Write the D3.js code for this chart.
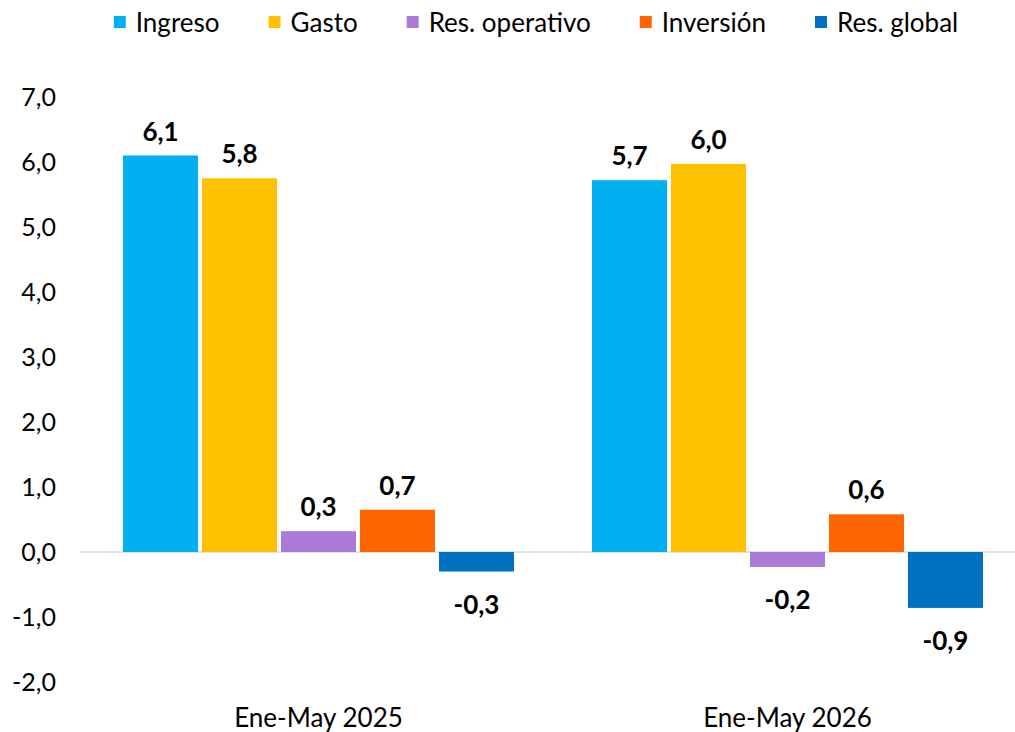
<!DOCTYPE html>
<html>
<head>
<meta charset="utf-8">
<script src="https://cdn.jsdelivr.net/npm/d3@7"></script>
<style>
  body { margin: 0; background: #fff; }
  svg { font-family: Lato, "Open Sans", sans-serif; }
</style>
</head>
<body>
<div id="chart"></div>
<script>
// data
const periods = ["Ene-May 2025", "Ene-May 2026"];
const seriesNames = ["Ingreso", "Gasto", "Res. operativo", "Inversión", "Res. global"];
const seriesColors = ["#00B0F0", "#FFC000", "#A97AD6", "#FF6600", "#0070C0"];
const values2025 = [6.1, 5.75, 0.32, 0.65, -0.3];
const values2026 = [5.72, 5.97, -0.23, 0.58, -0.86];
const yTicks = [-2, -1, 0, 1, 2, 3, 4, 5, 6, 7];

const svgWidth = 1015;
const svgHeight = 732;

const svg = d3.select("#chart")
  .append("svg")
  .attr("width", svgWidth)
  .attr("height", svgHeight);

const rows = [values2025, values2026].map((vals, i) => ({
  period: periods[i],
  values: vals.map((v, j) => ({ name: seriesNames[j], value: v }))
}));

const x0 = d3.scaleBand()
  .domain(periods)
  .range([84, 1022]);

const x1 = d3.scaleBand()
  .domain(seriesNames)
  .range([39, x0.bandwidth() - 39])
  .paddingInner(0.05);

const yScale = d3.scaleLinear()
  .domain([-2, 7])
  .range([682, 97]);

const color = d3.scaleOrdinal().domain(seriesNames).range(seriesColors);
// comma decimals with a plain hyphen for negatives
const fmt = v => d3.format(".1f")(v).replace(".", ",").replace("\u2212", "-");

// y axis labels only, no line
const yAxis = d3.axisLeft(yScale)
  .tickValues(yTicks)
  .tickSize(0)
  .tickPadding(0)
  .tickFormat(fmt);
const yAxisGroup = svg.append("g")
  .attr("transform", "translate(56,0)")
  .call(yAxis);
yAxisGroup.select(".domain").remove();
yAxisGroup.selectAll("text")
  .attr("font-size", 25)
  .attr("font-family", "Lato, sans-serif")
  .attr("fill", "#000");

// zero line
svg.append("line")
  .attr("x1", 80).attr("x2", svgWidth)
  .attr("y1", yScale(0)).attr("y2", yScale(0))
  .attr("stroke", "#d9d9d9")
  .attr("stroke-width", 1.5);

const groups = svg.selectAll(".group")
  .data(rows)
  .enter()
  .append("g")
  .attr("class", "group")
  .attr("transform", d => `translate(${x0(d.period)},0)`);

groups.selectAll("rect")
  .data(d => d.values)
  .enter()
  .append("rect")
  .attr("x", d => x1(d.name))
  .attr("width", x1.bandwidth())
  .attr("y", d => yScale(Math.max(0, d.value)))
  .attr("height", d => Math.abs(yScale(d.value) - yScale(0)))
  .attr("fill", d => color(d.name));

groups.selectAll(".val")
  .data(d => d.values)
  .enter()
  .append("text")
  .attr("class", "val")
  .attr("x", d => x1(d.name) + x1.bandwidth() / 2)
  .attr("y", d => d.value >= 0 ? yScale(d.value) - 15 : yScale(d.value) + 42)
  .attr("text-anchor", "middle")
  .attr("font-size", 26)
  .attr("font-weight", "bold")
  .text(d => fmt(Math.round(d.value * 10) / 10));

// category labels (cut at bottom edge like the original)
svg.selectAll(".cat")
  .data(periods)
  .enter()
  .append("text")
  .attr("class", "cat")
  .attr("x", d => x0(d) + x0.bandwidth() / 2)
  .attr("y", 727)
  .attr("text-anchor", "middle")
  .attr("font-size", 26)
  .text(d => d);

// legend
const legend = svg.append("g");
const items = legend.selectAll(".item")
  .data(seriesNames)
  .enter()
  .append("g")
  .attr("class", "item");
items.append("rect")
  .attr("width", 12).attr("height", 12)
  .attr("y", 16)
  .attr("fill", d => color(d));
items.append("text")
  .attr("x", 22)
  .attr("y", 32)
  .attr("font-size", 26)
  .text(d => d);

let pos = 0;
const positions = [];
items.each(function () {
  positions.push(pos);
  const w = d3.select(this).select("text").node().getComputedTextLength();
  pos += 22 + w + 49;
});
const totalW = pos - 49;
const startX = 536 - totalW / 2;
items.attr("transform", (d, i) => `translate(${startX + positions[i]},0)`);
</script>
</body>
</html>
